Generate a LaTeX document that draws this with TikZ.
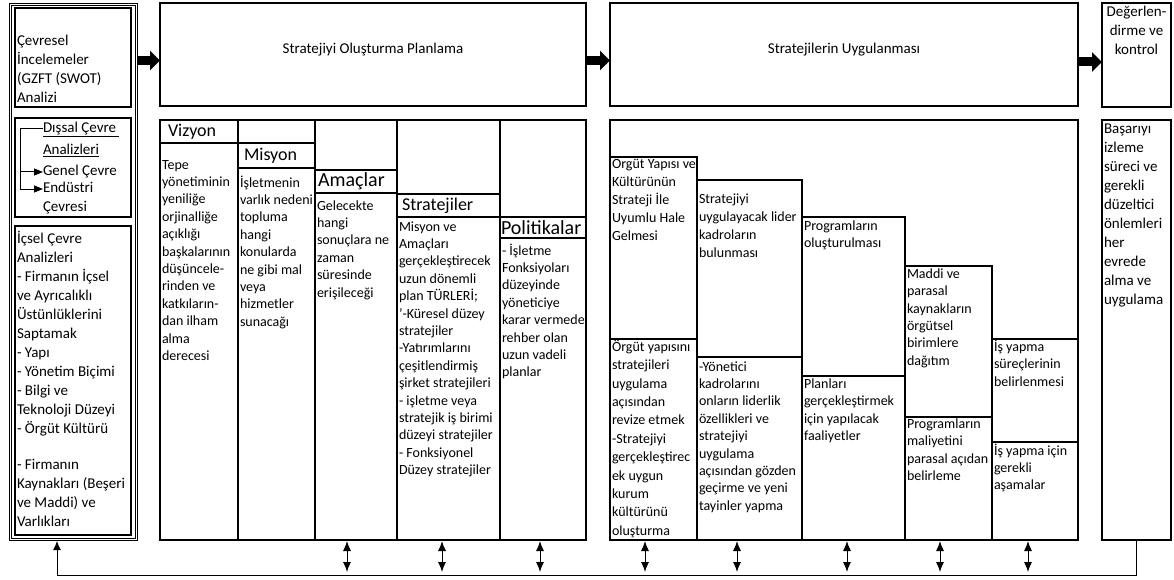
\documentclass[tikz,border=0pt]{standalone}
\usepackage{fontspec}
\setmainfont{Carlito}
\usetikzlibrary{arrows.meta,fit,positioning}

\begin{document}
\begin{tikzpicture}[
	x=1pt, y=-1pt,
	box/.style={draw, line width=1.9pt, inner sep=0pt},
	every node/.style={outer sep=0pt, font=\fontsize{14}{17.4}\selectfont},
	txt/.style={anchor=north west, align=left, inner xsep=2pt, inner ysep=1pt},
	sidetxt/.style={txt, font=\fontsize{15}{19}\selectfont},
	head/.style={anchor=west, inner sep=0pt, font=\fontsize{18}{20}\selectfont},
	boxtitle/.style={font=\fontsize{15}{18}\selectfont},
	dline/.style={anchor=west, inner sep=0pt, text height=10pt, text depth=3pt,
		font=\fontsize{15}{19}\selectfont},
	bigarrow/.style={line width=9pt, -{Triangle[length=10pt,width=19pt]}},
	smallarrow/.style={line width=1pt, -{Triangle[length=9pt,width=7pt]}},
	twoway/.style={line width=1pt, {Latex[length=10pt,width=8pt]}-{Latex[length=10pt,width=8pt]},
		shorten <=1pt, shorten >=3pt},
	feedback/.style={line width=1pt, -{Latex[length=9pt,width=8pt]}, shorten >=1.5pt},
]
% \colhead{title options}[corners](name){title}: header of a planning column.
\def\colhead#1[#2](#3)#4{
	\node[box, fit={#2}] (#3) {};
	\node[head, #1] at (#3.west) (#3title) {#4};
}
% \colbody{options}(name){text}: text under a column header.
\def\colbody#1(#2)#3{
	\node[txt, #1] at (#2.south west) (#2text) {\strut #3};
}
% \stagebox{text options}[corners](name){text}: one step of the implementation.
\def\stagebox#1[#2](#3)#4{
	\node[box, fit={#2}] (#3) {};
	\node[txt, #1] at (#3.north west) (#3text) {\strut #4};
}
	\useasboundingbox (0,0) rectangle (1174,580);

	% Environment analysis (left column)
	\node[box, double, double distance=1.4pt, line width=0.9pt,
		fit={(10.5,4.5) (136.5,539.5)}] (env) {};
	\node[box, fit={(15,8) (131,107)}] (swot) {};
	\node[sidetxt, yshift=-23pt] at (swot.north west) (swottext)
		{\strut Çevresel\\İncelemeler\\(GZFT (SWOT)\\Analizi};
	\node[box, fit={(15,118) (131,217)}] (ext) {};
	\node[dline] (dis1) at (43,129) {\underline{Dışsal Çevre~}};
	\node[dline] (dis2) at (43,151) {\underline{Analizleri}};
	\node[dline] (genel) at (43,172) {Genel Çevre};
	\node[dline] (endustri) at (43,189) {Endüstri};
	\node[dline] (cevresi) at (43,208) {Çevresi};
	\coordinate (brk) at (20,129);
	\draw[line width=1pt] (dis1.west) -- (brk);
	\draw[smallarrow] (brk) |- (endustri.west);
	\draw[smallarrow] (brk |- genel.west) -- (genel.west);
	\node[box, fit={(15,226) (131,535)}] (int) {};
	\node[sidetxt, yshift=-3pt] at (int.north west) (inttext)
		{\strut İçsel Çevre\\Analizleri\\- Firmanın İçsel\\ve Ayrıcalıklı\\Üstünlüklerini\\Saptamak\\- Yapı\\- Yönetim Biçimi\\- Bilgi ve\\Teknoloji Düzeyi\\- Örgüt Kültürü\\[17pt]- Firmanın\\Kaynakları (Beşeri\\ve Maddi) ve\\Varlıkları};

	% Top row
	\node[box, boxtitle, fit={(160,3) (586,106)}] (plan) {Stratejiyi Oluşturma Planlama};
	\node[box, boxtitle, fit={(610,3) (1078,106)}] (impl) {Stratejilerin Uygulanması};
	\node[box, fit={(1102,3) (1171,107)}] (eval) {};
	\node[sidetxt, anchor=north, align=center, yshift=1pt] at (eval.north) (evaltext)
		{\strut Değerlen-\\dirme ve\\kontrol};
	\coordinate (a1) at ([yshift=-6pt]plan.west);
	\coordinate (a2) at ([yshift=-6pt]impl.west);
	\coordinate (a3) at ([yshift=-7pt]eval.west);
	\draw[bigarrow] (env.east |- a1) -- (a1);
	\draw[bigarrow] (plan.east |- a2) -- (a2);
	\draw[bigarrow] (impl.east |- a3) -- (a3);

	% Planning columns
	\node[box, fit={(160,120) (586,540)}] (plancols) {};
	\colhead{xshift=8pt}[(160,120) (238,143)](vizyon){Vizyon}
	\colhead{xshift=6pt}[(238,143) (315,168)](misyon){Misyon}
	\colhead{xshift=3pt, font=\fontsize{20}{22}\selectfont}[(315,170) (397,193)](amaclar){Amaçlar}
	\colhead{xshift=5pt}[(397,194) (500,217)](stratejiler){Stratejiler}
	\colhead{xshift=1pt, font=\fontsize{20}{22}\selectfont}[(500,217) (586,238)](politikalar){Politikalar}
	\foreach \c in {vizyon,misyon,amaclar,stratejiler}
		\draw[line width=1.9pt] (\c.east |- plancols.north) -- (\c.east |- plancols.south);
	\colbody{yshift=-13pt}(vizyon){Tepe\\yönetiminin\\yeniliğe\\orjinalliğe\\açıklığı\\başkalarının\\düşüncele-\\rinden ve\\katkıların-\\dan ilham\\alma\\derecesi}
	\colbody{yshift=-6pt}(misyon){İşletmenin\\varlık nedeni\\topluma\\hangi\\konularda\\ne gibi mal\\veya\\hizmetler\\sunacağı}
	\colbody{yshift=-4pt}(amaclar){Gelecekte\\hangi\\sonuçlara ne\\zaman\\süresinde\\erişileceği}
	\colbody{yshift=-1pt}(stratejiler){Misyon ve\\Amaçları\\gerçekleştirecek\\uzun dönemli\\plan TÜRLERİ;\\'-Küresel düzey\\stratejiler\\-Yatırımlarını\\çeşitlendirmiş\\şirket stratejileri\\- işletme veya\\stratejik iş birimi\\düzeyi stratejiler\\- Fonksiyonel\\Düzey stratejiler}
	\colbody{yshift=-4pt}(politikalar){- İşletme\\Fonksiyoları\\düzeyinde\\yöneticiye\\karar vermede\\rehber olan\\uzun vadeli\\planlar}

	% Implementation steps
	\node[box, fit={(610,120) (1078,540)}] (implcols) {};
	\stagebox{yshift=1.9pt, font=\fontsize{14}{18}\selectfont}[(610,157) (697,339)](yapi)
		{Örgüt Yapısı ve\\Kültürünün\\Strateji İle\\Uyumlu Hale\\Gelmesi}
	\stagebox{yshift=1.5pt, font=\fontsize{14}{18.4}\selectfont}[(610,339) (697,540)](yapialt)
		{Örgüt yapısını\\stratejileri\\uygulama\\açısından\\revize etmek\\-Stratejiyi\\gerçekleştirec\\ek uygun\\kurum\\kültürünü\\oluşturma}
	\stagebox{yshift=-10pt, font=\fontsize{14}{18}\selectfont}[(697,180) (802,357)](lider)
		{Stratejiyi\\uygulayacak lider\\kadroların\\bulunması}
	\stagebox{yshift=-1pt}[(697,357) (802,540)](lideralt)
		{-Yönetici\\kadrolarını\\onların liderlik\\özellikleri ve\\stratejiyi\\uygulama\\açısından gözden\\geçirme ve yeni\\tayinler yapma}
	\stagebox{}[(802,217) (905,376)](program)
		{Programların\\oluşturulması}
	\stagebox{yshift=0.9pt}[(802,376) (905,540)](programalt)
		{Planları\\gerçekleştirmek\\için yapılacak\\faaliyetler}
	\stagebox{yshift=0.9pt}[(905,266) (992,417)](kaynak)
		{Maddi ve\\parasal\\kaynakların\\örgütsel\\birimlere\\dağıtım}
	\stagebox{yshift=1.9pt}[(905,417) (992,540)](kaynakalt)
		{Programların\\maliyetini\\parasal açıdan\\belirleme}
	\stagebox{yshift=0.9pt}[(992,339) (1078,442)](surec)
		{İş yapma\\süreçlerinin\\belirlenmesi}
	\stagebox{}[(992,442) (1078,540)](surecalt)
		{İş yapma için\\gerekli\\aşamalar}

	% Evaluation (right column)
	\node[box, fit={(1102,120) (1171,540)}] (evalbody) {};
	\node[sidetxt, yshift=1pt] at (evalbody.north west) (evalbodytext)
		{\strut Başarıyı\\izleme\\süreci ve\\gerekli\\düzeltici\\önlemleri\\her\\evrede\\alma ve\\uygulama};

	% Feedback
	\coordinate (fb) at (57,575);
	\draw[feedback] (evalbody.south) |- (fb) -- (fb |- env.south);
	\foreach \x in {347,442,540} {
		\coordinate (t) at (\x,0);
		\draw[twoway] (t |- plancols.south) -- (t |- fb);
	}
	\foreach \x in {645,737,847,940,1028} {
		\coordinate (t) at (\x,0);
		\draw[twoway] (t |- implcols.south) -- (t |- fb);
	}
\end{tikzpicture}
\end{document}
